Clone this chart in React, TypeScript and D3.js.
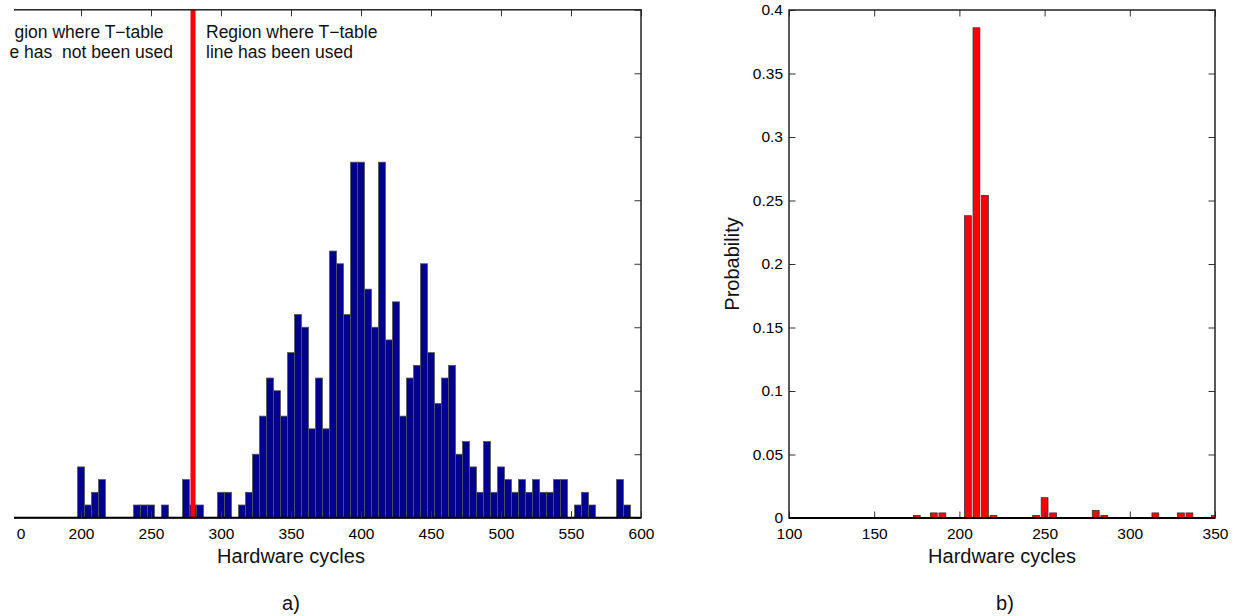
import React, { useEffect, useRef } from "react"
import * as d3 from "d3"

// panel a) : histogram of hardware cycles (counts per 5-cycle bin)
const leftBins = [
	200, 205, 210, 215, 220, 225, 230, 235, 240, 245, 250, 255, 260, 265, 270, 275,
	280, 285, 290, 295, 300, 305, 310, 315, 320, 325, 330, 335, 340, 345, 350, 355,
	360, 365, 370, 375, 380, 385, 390, 395, 400, 405, 410, 415, 420, 425, 430, 435,
	440, 445, 450, 455, 460, 465, 470, 475, 480, 485, 490, 495, 500, 505, 510, 515,
	520, 525, 530, 535, 540, 545, 550, 555, 560, 565, 570, 575, 580, 585, 590,
]
const leftCounts = [
	4, 1, 2, 3, 0, 0, 0, 0, 1, 1, 1, 0, 1, 0, 0, 3,
	1, 1, 0, 0, 2, 2, 0, 1, 2, 5, 8, 11, 10, 8, 13, 16,
	15, 7, 11, 7, 21, 20, 16, 28, 28, 18, 15, 28, 14, 17, 8, 11,
	12, 20, 13, 9, 11, 12, 5, 6, 4, 2, 6, 2, 4, 3, 2, 3,
	2, 3, 2, 2, 3, 3, 0, 1, 2, 1, 0, 0, 0, 3, 1,
]
// the figure is cropped on the left: only the last digit of the first label shows
const leftXTicks = [150, 200, 250, 300, 350, 400, 450, 500, 550, 600]
const leftXTickLabels = ["0", "200", "250", "300", "350", "400", "450", "500", "550", "600"]
const leftYTicks = [0, 5, 10, 15, 20, 25, 30, 35, 40]
const cutoffCycle = 280
const notUsedText = ["gion where T\u2212table", "e has  not been used"]
const usedText = ["Region where T\u2212table", "line has been used"]

// panel b) : probability per bin
const rightBins = [175, 185, 190, 205, 210, 215, 220, 245, 250, 255, 280, 285, 315, 330, 335, 350]
const rightProb = [
	0.002, 0.004, 0.004, 0.238, 0.386, 0.254, 0.002, 0.002, 0.016, 0.004, 0.006, 0.002,
	0.004, 0.004, 0.004, 0.002,
]
const rightXTicks = [100, 150, 200, 250, 300, 350]
const rightYTicks = [0, 0.05, 0.1, 0.15, 0.2, 0.25, 0.3, 0.35, 0.4]

const W = 1243
const H = 616
const FONT = "'Liberation Sans', Arial, Helvetica, sans-serif"

const App = () => {
	const ref = useRef<SVGSVGElement>(null)

	useEffect(() => {
		const svg = d3.select(ref.current)
		svg.selectAll("*").remove()

		const xA = d3.scaleLinear().domain([100, 600]).range([-59, 641])
		const yA = d3.scaleLinear().domain([0, 40]).range([517.7, 9.8])
		const xB = d3.scaleLinear().domain([100, 350]).range([789, 1215])
		const yB = d3.scaleLinear().domain([0, 0.4]).range([518, 10])

		const defs = svg.append("defs")
		defs
			.append("clipPath")
			.attr("id", "clipA")
			.append("rect")
			.attr("x", 14)
			.attr("y", 0)
			.attr("width", 640)
			.attr("height", H)
		defs
			.append("clipPath")
			.attr("id", "clipB")
			.append("rect")
			.attr("x", xB(100))
			.attr("y", yB(0.4))
			.attr("width", xB(350) - xB(100))
			.attr("height", yB(0) - yB(0.4))

		const styleAxis = (g: any, labels: boolean) => {
			g.select(".domain").remove()
			g.selectAll(".tick line").attr("stroke", "#333").attr("stroke-width", 1)
			g.selectAll(".tick text")
				.attr("fill", "#000")
				.style("font-family", FONT)
				.style("font-size", "15.5px")
			if (!labels) g.selectAll(".tick text").remove()
		}

		// ---------- panel a ----------
		const a = svg.append("g").attr("clip-path", "url(#clipA)")

		a.append("g")
			.selectAll("rect")
			.data(leftBins.map((b, i) => ({ b, c: leftCounts[i] })).filter(d => d.c > 0))
			.join("rect")
			.attr("x", d => xA(d.b - 2.5))
			.attr("width", d => xA(d.b + 2.5) - xA(d.b - 2.5))
			.attr("y", d => yA(d.c))
			.attr("height", d => yA(0) - yA(d.c))
			.attr("fill", "#00008F")
			.attr("stroke", "#555")
			.attr("stroke-width", 0.8)

		a.append("line")
			.attr("x1", xA(cutoffCycle))
			.attr("x2", xA(cutoffCycle))
			.attr("y1", yA(40))
			.attr("y2", yA(0))
			.attr("stroke", "#FF0000")
			.attr("stroke-width", 5)

		a.append("g")
			.attr("transform", `translate(0,${yA(40)})`)
			.call(d3.axisTop(xA).tickValues(leftXTicks).tickSizeInner(-6.5).tickSizeOuter(0))
			.call(g => styleAxis(g, false))
		a.append("g")
			.attr("transform", `translate(${xA(600)},0)`)
			.call(d3.axisRight(yA).tickValues(leftYTicks).tickSizeInner(-6.5).tickSizeOuter(0))
			.call(g => styleAxis(g, false))

		a.append("rect")
			.attr("x", xA(100))
			.attr("y", yA(40))
			.attr("width", xA(600) - xA(100))
			.attr("height", yA(0) - yA(40))
			.attr("fill", "none")
			.attr("stroke", "#222")
			.attr("stroke-width", 1.5)
		a.append("line")
			.attr("x1", xA(100))
			.attr("x2", xA(600))
			.attr("y1", yA(0))
			.attr("y2", yA(0))
			.attr("stroke", "#000")
			.attr("stroke-width", 2)

		// bottom axis outside the clip so the cropped first label stays whole
		const bottomA = svg.append("g")
			.attr("transform", `translate(0,${yA(0)})`)
			.call(
				d3.axisBottom(xA)
					.tickValues(leftXTicks)
					.tickFormat((_, i) => leftXTickLabels[i])
					.tickSizeInner(-6.5)
					.tickSizeOuter(0)
					.tickPadding(10),
			)
			.call(g => styleAxis(g, true))
		bottomA.selectAll(".tick line").filter((d: any) => d === 150).remove()
		bottomA.selectAll(".tick text").filter((d: any) => d === 150).attr("dx", 9.5)

		// annotations on both sides of the red line
		const ann = svg.append("g")
			.style("font-family", FONT)
			.style("font-size", "17.5px")
			.attr("fill", "#111")
			.style("white-space", "pre")
		ann.selectAll("text.left")
			.data(notUsedText)
			.join("text")
			.attr("class", "left")
			.attr("xml:space", "preserve")
			.attr("x", (_, i) => (i === 0 ? 14.5 : 9.5))
			.attr("y", (_, i) => 37.7 + i * 20.6)
			.text(d => d)
		ann.selectAll("text.right")
			.data(usedText)
			.join("text")
			.attr("class", "right")
			.attr("x", xA(cutoffCycle) + 13)
			.attr("y", (_, i) => 37.7 + i * 20.6)
			.text(d => d)

		const midA = (xA(100) + xA(600)) / 2
		svg.append("text")
			.attr("x", midA)
			.attr("y", 562.7)
			.attr("text-anchor", "middle")
			.style("font-family", FONT)
			.style("font-size", "20px")
			.attr("fill", "#111")
			.text("Hardware cycles")
		svg.append("text")
			.attr("x", midA)
			.attr("y", 610)
			.attr("text-anchor", "middle")
			.style("font-family", FONT)
			.style("font-size", "20px")
			.attr("fill", "#111")
			.text("a)")

		// ---------- panel b ----------
		const b = svg.append("g")

		b.append("g")
			.attr("clip-path", "url(#clipB)")
			.selectAll("rect")
			.data(rightBins.map((v, i) => ({ v, p: rightProb[i] })))
			.join("rect")
			.attr("x", d => xB(d.v - 2))
			.attr("width", d => xB(d.v + 2) - xB(d.v - 2))
			.attr("y", d => yB(d.p))
			.attr("height", d => yB(0) - yB(d.p))
			.attr("fill", "#FF0000")
			.attr("stroke", "#333")
			.attr("stroke-width", 0.8)

		b.append("g")
			.attr("transform", `translate(0,${yB(0)})`)
			.call(d3.axisBottom(xB).tickValues(rightXTicks).tickSizeInner(-6.5).tickSizeOuter(0).tickPadding(10))
			.call(g => styleAxis(g, true))
		b.append("g")
			.attr("transform", `translate(0,${yB(0.4)})`)
			.call(d3.axisTop(xB).tickValues(rightXTicks).tickSizeInner(-6.5).tickSizeOuter(0))
			.call(g => styleAxis(g, false))
		b.append("g")
			.attr("transform", `translate(${xB(100)},0)`)
			.call(
				d3.axisLeft(yB)
					.tickValues(rightYTicks)
					.tickFormat(d => String(d))
					.tickSizeInner(-6.5)
					.tickSizeOuter(0)
					.tickPadding(6),
			)
			.call(g => styleAxis(g, true))
		b.append("g")
			.attr("transform", `translate(${xB(350)},0)`)
			.call(d3.axisRight(yB).tickValues(rightYTicks).tickSizeInner(-6.5).tickSizeOuter(0))
			.call(g => styleAxis(g, false))

		b.append("rect")
			.attr("x", xB(100))
			.attr("y", yB(0.4))
			.attr("width", xB(350) - xB(100))
			.attr("height", yB(0) - yB(0.4))
			.attr("fill", "none")
			.attr("stroke", "#222")
			.attr("stroke-width", 1.5)
		b.append("line")
			.attr("x1", xB(100))
			.attr("x2", xB(350))
			.attr("y1", yB(0))
			.attr("y2", yB(0))
			.attr("stroke", "#000")
			.attr("stroke-width", 2)

		const midB = (xB(100) + xB(350)) / 2
		svg.append("text")
			.attr("x", midB)
			.attr("y", 562.7)
			.attr("text-anchor", "middle")
			.style("font-family", FONT)
			.style("font-size", "20px")
			.attr("fill", "#111")
			.text("Hardware cycles")
		svg.append("text")
			.attr("x", midB + 3)
			.attr("y", 610)
			.attr("text-anchor", "middle")
			.style("font-family", FONT)
			.style("font-size", "20px")
			.attr("fill", "#111")
			.text("b)")
		svg.append("text")
			.attr("transform", `translate(739,${(yB(0) + yB(0.4)) / 2}) rotate(-90)`)
			.attr("text-anchor", "middle")
			.style("font-family", FONT)
			.style("font-size", "20px")
			.attr("fill", "#111")
			.text("Probability")
	}, [])

	return (
		<svg
			ref={ref}
			width={W}
			height={H}
			style={{ position: "absolute", left: 0, top: 0, background: "#fff" }}
		></svg>
	)
}

export default App
